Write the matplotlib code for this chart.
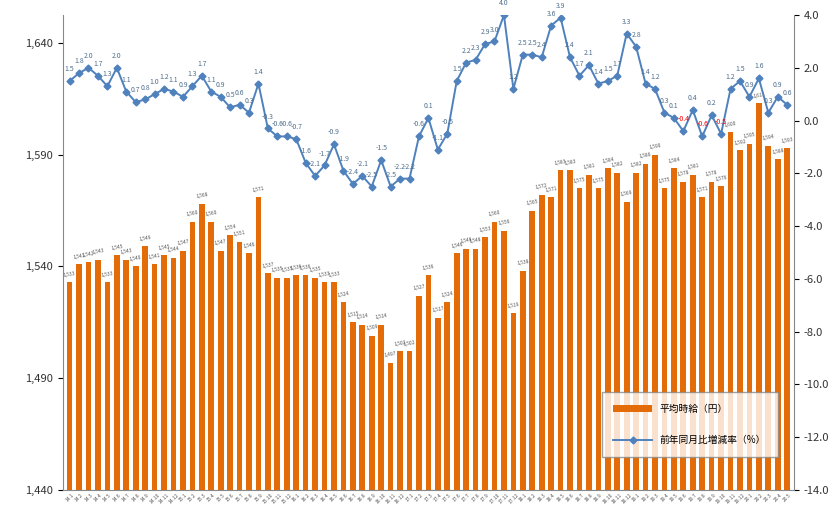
import matplotlib.pyplot as plt
import numpy as np

plt.rcParams['font.family'] = ['Noto Sans CJK JP', 'DejaVu Sans']

# average hourly wage (yen), 77 months
wage = [1533, 1541, 1542, 1543, 1533, 1545, 1543, 1540, 1549, 1541,
        1545, 1544, 1547, 1560, 1568, 1560, 1547, 1554, 1551, 1546,
        1571, 1537, 1535, 1535, 1536, 1536, 1535, 1533, 1533, 1524,
        1515, 1514, 1509, 1514, 1497, 1502, 1502, 1527, 1536, 1517,
        1524, 1546, 1548, 1548, 1553, 1560, 1556, 1519, 1538, 1565,
        1572, 1571, 1583, 1583, 1575, 1581, 1575, 1584, 1582, 1569,
        1582, 1586, 1590, 1575, 1584, 1578, 1581, 1571, 1578, 1576,
        1600, 1592, 1595, 1613, 1594, 1588, 1593]
# year-on-year change (%)
yoy = [1.5, 1.8, 2.0, 1.7, 1.3, 2.0, 1.1, 0.7, 0.8, 1.0,
       1.2, 1.1, 0.9, 1.3, 1.7, 1.1, 0.9, 0.5, 0.6, 0.3,
       1.4, -0.3, -0.6, -0.6, -0.7, -1.6, -2.1, -1.7, -0.9, -1.9,
       -2.4, -2.1, -2.5, -1.5, -2.5, -2.2, -2.2, -0.6, 0.1, -1.1,
       -0.5, 1.5, 2.2, 2.3, 2.9, 3.0, 4.0, 1.2, 2.5, 2.5,
       2.4, 3.6, 3.9, 2.4, 1.7, 2.1, 1.4, 1.5, 1.7, 3.3,
       2.8, 1.4, 1.2, 0.3, 0.1, -0.4, 0.4, -0.6, 0.2, -0.5,
       1.2, 1.5, 0.9, 1.6, 0.3, 0.9, 0.6]
months = [f"{14 + i // 12}.{i % 12 + 1}" for i in range(len(wage))]

x = np.arange(len(wage))
fig, ax = plt.subplots(figsize=(8.4, 5.19), dpi=100)
fig.subplots_adjust(left=0.075, right=0.945, top=0.971, bottom=0.056)

ax.bar(x, wage, width=0.6, color='#E36C09', label='平均時給（円）', zorder=2)
ax.set_ylim(1440, 1652.5)
ax.set_yticks([1440, 1490, 1540, 1590, 1640])
ax.set_yticklabels(['1,440', '1,490', '1,540', '1,590', '1,640'], fontsize=8, color='#333333')
ax.set_xlim(-0.7, len(wage) - 0.3)
ax.set_xticks(x)
ax.set_xticklabels(months, rotation=45, fontsize=3.5, color='#555555')
ax.tick_params(axis='x', length=0, pad=2)
for s in ['top', 'right']:
    ax.spines[s].set_visible(False)
ax.spines['left'].set_color('#888888')
ax.spines['bottom'].set_color('#888888')
for xi, v in zip(x, wage):
    ax.text(xi, v + 2, f"{v:,}", ha='center', va='bottom', fontsize=3.5,
            color='#555555', rotation=10)

ax2 = ax.twinx()
ax2.plot(x, yoy, color='#4F81BD', marker='D', markersize=3.5, lw=1.4,
         label='前年同月比増減率（%）', zorder=3)
ax2.set_ylim(-14, 4)
ax2.set_yticks(np.arange(-14, 4.1, 2))
ax2.set_yticklabels([f"{t:.1f}" for t in np.arange(-14, 4.1, 2)], fontsize=8, color='#333333')
for s in ['top', 'left', 'bottom']:
    ax2.spines[s].set_visible(False)
ax2.spines['right'].set_color('#888888')
for i, (xi, v) in enumerate(zip(x, yoy)):
    c = '#FF0000' if (v < 0 and i > 60) else '#4F6F8F'
    ax2.text(xi, v + 0.3, f"{v:.1f}", ha='center', va='bottom', fontsize=5, color=c)

h1, l1 = ax.get_legend_handles_labels()
h2, l2 = ax2.get_legend_handles_labels()
ax2.legend(h1 + h2, l1 + l2, loc='lower right', bbox_to_anchor=(0.985, 0.06),
           fontsize=7, frameon=True, fancybox=False, edgecolor='#888888',
           labelspacing=2.2, borderpad=1.2, handlelength=4)

fig.savefig('out.png')
